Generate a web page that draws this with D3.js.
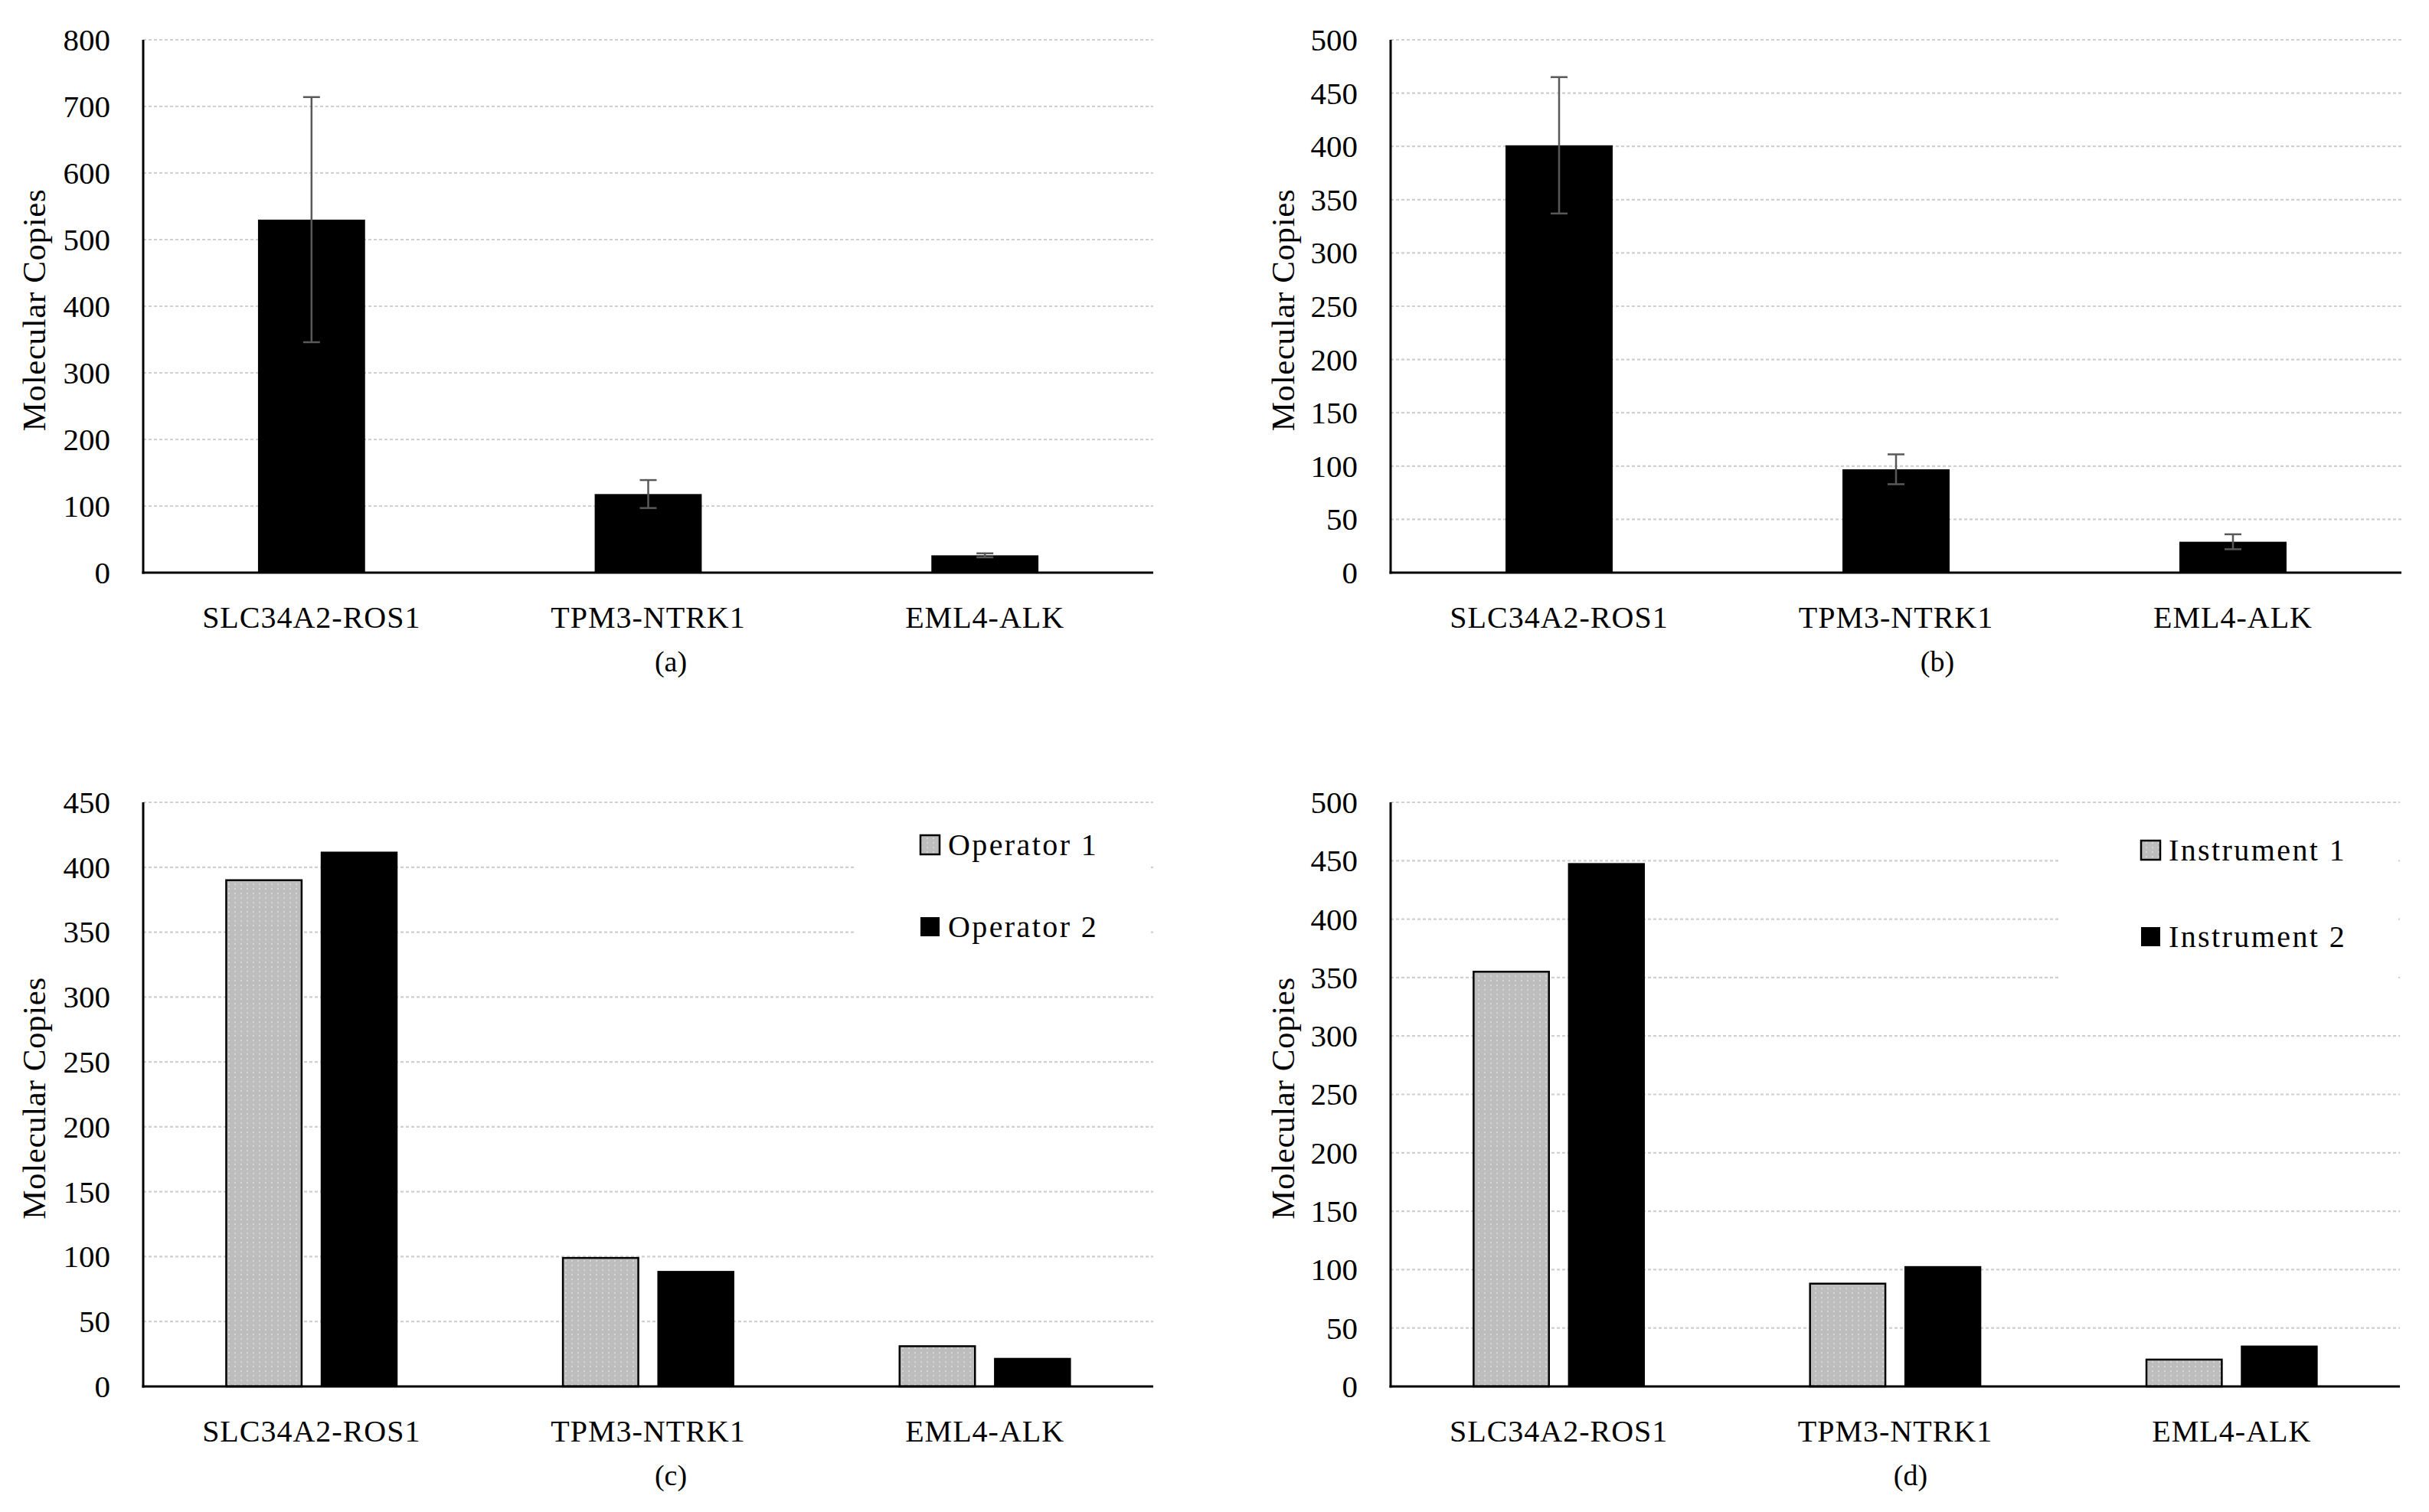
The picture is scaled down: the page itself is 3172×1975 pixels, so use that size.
<!DOCTYPE html>
<html>
<head>
<meta charset="utf-8">
<script src="https://cdn.jsdelivr.net/npm/d3@7"></script>
<style>
  html, body { margin: 0; padding: 0; background: #fff; }
  svg { display: block; }
  text { font-family: "Liberation Serif", "Times New Roman", serif; fill: #000; }
</style>
</head>
<body>
<svg id="chart" width="3172" height="1975"></svg>
<script>
// ---------------- data ----------------
const categories = ["SLC34A2-ROS1", "TPM3-NTRK1", "EML4-ALK"];

// panel (a)
const meanA = [530, 118, 26];
const errA = [184, 21, 3];
const ticksA = [0, 100, 200, 300, 400, 500, 600, 700, 800];

// panel (b)
const meanB = [401, 97, 29];
const errB = [64, 14, 7];
const ticksB = [0, 50, 100, 150, 200, 250, 300, 350, 400, 450, 500];

// panel (c)
const seriesC = ["Operator 1", "Operator 2"];
const operator1 = [390, 99, 31];
const operator2 = [412, 89, 22];
const ticksC = [0, 50, 100, 150, 200, 250, 300, 350, 400, 450];

// panel (d)
const seriesD = ["Instrument 1", "Instrument 2"];
const instrument1 = [355, 88, 23];
const instrument2 = [448, 103, 35];
const ticksD = [0, 50, 100, 150, 200, 250, 300, 350, 400, 450, 500];

const yTitle = "Molecular Copies";

// ---------------- drawing ----------------
const svg = d3.select("#chart");
const defs = svg.append("defs");
const pat = defs.append("pattern").attr("id", "dots")
  .attr("width", 8).attr("height", 6).attr("patternUnits", "userSpaceOnUse");
pat.append("rect").attr("width", 8).attr("height", 6).attr("fill", "#bdbdbd");
pat.append("rect").attr("x", 2).attr("y", 2).attr("width", 2).attr("height", 2).attr("fill", "#d6d6d6");

function panel(cfg) {
  const g = svg.append("g");
  const x = d3.scaleBand().domain(categories).range([cfg.left, cfg.right]).padding(0);
  const y = d3.scaleLinear().domain([0, d3.max(cfg.ticks)]).range([cfg.base, cfg.top]);

  // gridlines
  g.append("g").selectAll("line").data(cfg.ticks.filter(t => t > 0)).join("line")
    .attr("x1", cfg.left).attr("x2", cfg.right)
    .attr("y1", d => y(d)).attr("y2", d => y(d))
    .attr("stroke", "#d0d0d0").attr("stroke-width", 2.2)
    .attr("stroke-dasharray", "4,3");

  // y tick labels
  g.append("g").selectAll("text").data(cfg.ticks).join("text")
    .attr("x", cfg.left - 43).attr("y", d => y(d))
    .attr("dy", "0.34em")
    .attr("text-anchor", "end")
    .attr("font-size", 41)
    .text(d => d);

  if (cfg.single) {
    const bw = x.bandwidth() * 0.318;
    const rows = categories.map((c, i) => ({ c, v: cfg.single[i], e: cfg.err[i] }));
    g.append("g").selectAll("rect").data(rows).join("rect")
      .attr("x", d => x(d.c) + (x.bandwidth() - bw) / 2)
      .attr("width", bw)
      .attr("y", d => y(d.v))
      .attr("height", d => y(0) - y(d.v))
      .attr("fill", "#000");
    const eb = g.append("g").attr("stroke", "#595959").attr("stroke-width", 2.5);
    const cx = d => x(d.c) + x.bandwidth() / 2;
    eb.selectAll("line.v").data(rows).join("line").attr("class", "v")
      .attr("x1", cx).attr("x2", cx)
      .attr("y1", d => y(d.v + d.e)).attr("y2", d => y(d.v - d.e));
    eb.selectAll("line.t").data(rows).join("line").attr("class", "t")
      .attr("x1", d => cx(d) - 11).attr("x2", d => cx(d) + 11)
      .attr("y1", d => y(d.v + d.e)).attr("y2", d => y(d.v + d.e));
    eb.selectAll("line.b").data(rows).join("line").attr("class", "b")
      .attr("x1", d => cx(d) - 11).attr("x2", d => cx(d) + 11)
      .attr("y1", d => y(d.v - d.e)).attr("y2", d => y(d.v - d.e));
  } else {
    const x1 = d3.scaleBand().domain(cfg.series).range([0, x.bandwidth()])
      .paddingInner(0.192).paddingOuter(0.864);
    const rows = [];
    categories.forEach((c, i) => {
      rows.push({ c, s: cfg.series[0], v: cfg.s1[i] });
      rows.push({ c, s: cfg.series[1], v: cfg.s2[i] });
    });
    g.append("g").selectAll("rect").data(rows).join("rect")
      .attr("x", d => x(d.c) + x1(d.s) + (d.s === cfg.series[0] ? 1 : 0))
      .attr("width", d => x1.bandwidth() - (d.s === cfg.series[0] ? 2 : 0))
      .attr("y", d => y(d.v))
      .attr("height", d => y(0) - y(d.v))
      .attr("fill", d => d.s === cfg.series[0] ? "url(#dots)" : "#000")
      .attr("stroke", "#000")
      .attr("stroke-width", d => d.s === cfg.series[0] ? 2.5 : 0);

    // legend with white backing that hides gridlines
    const L = cfg.legend;
    g.append("rect").attr("x", L.boxX).attr("y", L.boxY)
      .attr("width", L.boxW).attr("height", L.boxH).attr("fill", "#fff");
    cfg.series.forEach((s, i) => {
      const yy = L.y0 + i * L.dy;
      g.append("rect").attr("x", L.x).attr("y", yy - 26)
        .attr("width", 25).attr("height", 25)
        .attr("fill", i === 0 ? "url(#dots)" : "#000")
        .attr("stroke", "#000").attr("stroke-width", i === 0 ? 2.5 : 0);
      g.append("text").attr("x", L.x + 36).attr("y", yy)
        .attr("font-size", 40).attr("letter-spacing", L.ls)
        .text(s);
    });
  }

  // axes lines
  g.append("line").attr("x1", cfg.left).attr("x2", cfg.left)
    .attr("y1", cfg.top).attr("y2", cfg.base + 1.5)
    .attr("stroke", "#000").attr("stroke-width", 3);
  g.append("line").attr("x1", cfg.left - 1.5).attr("x2", cfg.right)
    .attr("y1", cfg.base).attr("y2", cfg.base)
    .attr("stroke", "#000").attr("stroke-width", 3);

  // category labels
  g.append("g").selectAll("text").data(categories).join("text")
    .attr("x", d => x(d) + x.bandwidth() / 2)
    .attr("y", cfg.base + 72)
    .attr("text-anchor", "middle")
    .attr("font-size", 40)
    .attr("letter-spacing", 1)
    .text(d => d);

  // panel letter
  g.append("text").attr("x", cfg.letterX).attr("y", cfg.base + 129)
    .attr("text-anchor", "middle").attr("font-size", 38)
    .text(cfg.letter);

  // y title
  g.append("text")
    .attr("transform", `translate(${cfg.titleX},${(cfg.top + cfg.base) / 2 + 5}) rotate(-90)`)
    .attr("text-anchor", "middle")
    .attr("font-size", 43)
    .attr("letter-spacing", 0.6)
    .text(yTitle);
}

panel({ left: 187, right: 1506, top: 52, base: 748, ticks: ticksA,
        single: meanA, err: errA, letter: "(a)", letterX: 876, titleX: 59 });
panel({ left: 1816, right: 3136, top: 52, base: 748, ticks: ticksB,
        single: meanB, err: errB, letter: "(b)", letterX: 2530, titleX: 1690 });
panel({ left: 187, right: 1506, top: 1048, base: 1811, ticks: ticksC,
        series: seriesC, s1: operator1, s2: operator2, letter: "(c)", letterX: 876, titleX: 59,
        legend: { boxX: 1115, boxY: 1060, boxW: 386, boxH: 200, x: 1202, y0: 1117, dy: 107, ls: 2.4 } });
panel({ left: 1816, right: 3134, top: 1048, base: 1811, ticks: ticksD,
        series: seriesD, s1: instrument1, s2: instrument2, letter: "(d)", letterX: 2495, titleX: 1690,
        legend: { boxX: 2688, boxY: 1066, boxW: 442, boxH: 234, x: 2796, y0: 1124, dy: 113, ls: 2.4 } });
</script>
</body>
</html>
